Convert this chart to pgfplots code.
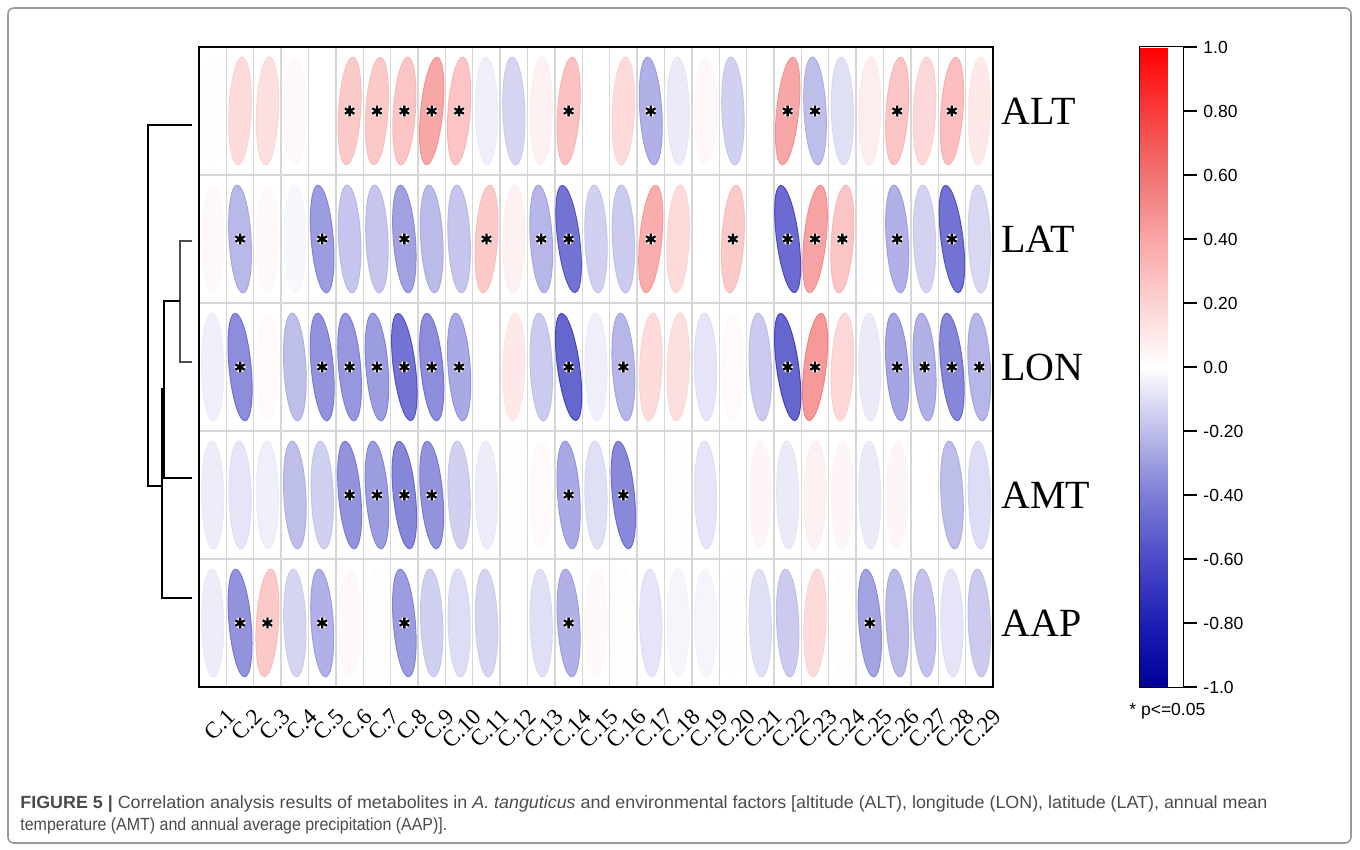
\documentclass[border=0pt]{standalone}
\usepackage{fontspec}
\setmainfont{Liberation Serif}
\newfontfamily\arial{Liberation Sans}
\usepackage{graphicx}
\usepackage{pgfplots}
\usepackage{pgfplotstable}
\pgfplotsset{compat=1.18}
\definecolor{capgray}{RGB}{75,75,75}
\definecolor{gridgray}{RGB}{215,215,215}

\pgfdeclareplotmark{correll}{%
  \pgftransformrotate{\ellang}%
  \pgfsetfillopacity{0.8}%
  \pgfpathellipse{\pgfpointorigin}{\pgfqpoint{5.5pt}{0pt}}{\pgfqpoint{0pt}{27pt}}%
  \pgfusepathqfillstroke}

\pgfplotstableread{
c  ALT   LAT   LON   AMT   AAP
1  0.01  0.04 -0.06 -0.07 -0.07
2  0.20 -0.27 -0.45 -0.10 -0.42
3  0.18  0.04  0.03 -0.06  0.30
4  0.04 -0.03 -0.25 -0.25 -0.16
5  0.00 -0.38 -0.42 -0.18 -0.30
6  0.30 -0.22 -0.40 -0.42  0.04
7  0.30 -0.22 -0.38 -0.38  0.02
8  0.32 -0.36 -0.58 -0.48 -0.38
9  0.48 -0.26 -0.45 -0.42 -0.18
10 0.33 -0.22 -0.33 -0.18 -0.13
11 -0.06 0.30  0.00 -0.07 -0.16
12 -0.16 0.08  0.12  0.01  0.00
13 0.08 -0.28 -0.20  0.03 -0.12
14 0.34 -0.58 -0.65 -0.33 -0.30
15 0.00 -0.18 -0.06 -0.12  0.04
16 0.20 -0.20 -0.28 -0.47  0.02
17 -0.30 0.45  0.20  0.00 -0.10
18 -0.08 0.20  0.18  0.01 -0.04
19 0.04  0.00 -0.10 -0.10 -0.04
20 -0.18 0.30  0.03  0.00  0.01
21 0.00  0.00 -0.20  0.05 -0.12
22 0.48 -0.62 -0.65 -0.08 -0.20
23 -0.25 0.50  0.55  0.08  0.20
24 -0.12 0.32  0.22  0.05  0.02
25 0.10  0.01 -0.08 -0.08 -0.35
26 0.32 -0.30 -0.35  0.05 -0.26
27 0.22 -0.17 -0.30  0.00 -0.23
28 0.36 -0.58 -0.48 -0.25 -0.10
29 0.12 -0.15 -0.28 -0.13 -0.20
}\corrdata

\begin{document}
\begin{tikzpicture}
\path[use as bounding box] (0pt,0pt) rectangle (680pt,-425pt);

% ---------- overlay axis in pixel units: frame, dendrogram, caption ----------
\begin{axis}[
  at={(0pt,0pt)}, anchor=north west,
  width=680pt, height=425pt, scale only axis,
  xmin=0, xmax=1360, ymin=0, ymax=850, y dir=reverse,
  hide axis, clip=false,
]
\draw[gray!80, line width=0.8pt, rounded corners=3pt] (axis cs:8,8) rectangle (axis cs:1351,843);
% dendrogram
\addplot[black, line width=0.8pt, mark=none] coordinates {(192,125) (148,125) (148,486) (162,486)};
\addplot[black!70, line width=0.8pt, mark=none] coordinates {(192,241) (180,241) (180,362) (192,362)};
\addplot[black, line width=0.8pt, mark=none] coordinates {(180,301) (164,301) (164,478) (192,478)};
\addplot[black, line width=0.8pt, mark=none] coordinates {(164,389) (162,389) (162,598) (192,598)};
% legend for significance
\node[anchor=west, inner sep=0pt, font=\arial\fontsize{8.75pt}{10pt}\selectfont] at (axis cs:1129,711) {* p<=0.05};
% caption
\node[anchor=base west, inner sep=0pt, text=capgray, font=\arial\fontsize{8.8pt}{11pt}\selectfont] at (axis cs:20,808)
  {\resizebox{623.5pt}{\height}{\textbf{FIGURE 5 |} Correlation analysis results of metabolites in \textit{A. tanguticus} and environmental factors [altitude (ALT), longitude (LON), latitude (LAT), annual mean}};
\node[anchor=base west, inner sep=0pt, text=capgray, font=\arial\fontsize{8.8pt}{11pt}\selectfont] at (axis cs:20,830)
  {\resizebox{213.5pt}{\height}{temperature (AMT) and annual average precipitation (AAP)].}};
\end{axis}

% ---------- main correlation axis ----------
\begin{axis}[
  at={(99.5pt,-23.5pt)}, anchor=north west,
  scale only axis, width=397pt, height=320pt,
  xmin=0.5, xmax=29.5, ymin=0.5, ymax=5.5, y dir=reverse,
  xtick={1,...,29},
  xticklabels={C.1,C.2,C.3,C.4,C.5,C.6,C.7,C.8,C.9,C.10,C.11,C.12,C.13,C.14,C.15,C.16,C.17,C.18,C.19,C.20,C.21,C.22,C.23,C.24,C.25,C.26,C.27,C.28,C.29},
  ytick={1,2,3,4,5},
  yticklabels={ALT,LAT,LON,AMT,AAP},
  yticklabel pos=right,
  major tick length=0pt, minor tick length=0pt,
  minor xtick={1.5,2.5,...,28.5}, minor ytick={1.5,2.5,3.5,4.5},
  xminorgrids, yminorgrids,
  minor grid style={gridgray, line width=0.7pt},
  axis line style={line width=1.4pt},
  xticklabel style={font=\fontsize{11.5pt}{13pt}\selectfont, inner sep=0pt, xshift=6.5pt, yshift=-10pt, rotate=45, anchor=north east},
  yticklabel style={font=\fontsize{20pt}{24pt}\selectfont, inner sep=0pt, xshift=4pt, anchor=west},
  colormap={corr}{rgb255=(0,0,150) rgb255=(30,30,180) rgb255=(75,75,200) rgb255=(125,125,215) rgb255=(190,190,235) rgb255=(255,255,255) rgb255=(253,210,210) rgb255=(250,165,165) rgb255=(240,115,115) rgb255=(250,60,60) rgb255=(255,0,0)},
  point meta min=-1, point meta max=1,
  colorbar right,
  colorbar style={
    at={(parent axis.north east)}, anchor=north west, xshift=64.5pt,
    scale only axis, width=22pt, height=320pt,
    ytick={-1,-0.8,-0.6,-0.4,-0.2,0,0.2,0.4,0.6,0.8,1},
    yticklabels={-1.0,-0.80,-0.60,-0.40,-0.20,0.0,0.20,0.40,0.60,0.80,1.0},
    ytick pos=right, yticklabel pos=right,
    tick align=outside, major tick length=7pt,
    tick style={black, line width=0.6pt},
    axis line style={line width=0.5pt},
    yticklabel style={font=\arial\fontsize{8.75pt}{10pt}\selectfont, inner sep=0pt, xshift=3pt, anchor=west},
  },
  every axis plot/.append style={scatter/use mapped color={draw=mapped color, fill=mapped color}},
]
\addplot[scatter, only marks, mark=correll, point meta=explicit, mark options={line width=0.5pt},
  visualization depends on={-12*\thisrow{ALT} \as \ellang}] table[x=c, y expr=1, meta=ALT] {\corrdata};
\addplot[scatter, only marks, mark=correll, point meta=explicit, mark options={line width=0.5pt},
  visualization depends on={-12*\thisrow{LAT} \as \ellang}] table[x=c, y expr=2, meta=LAT] {\corrdata};
\addplot[scatter, only marks, mark=correll, point meta=explicit, mark options={line width=0.5pt},
  visualization depends on={-12*\thisrow{LON} \as \ellang}] table[x=c, y expr=3, meta=LON] {\corrdata};
\addplot[scatter, only marks, mark=correll, point meta=explicit, mark options={line width=0.5pt},
  visualization depends on={-12*\thisrow{AMT} \as \ellang}] table[x=c, y expr=4, meta=AMT] {\corrdata};
\addplot[scatter, only marks, mark=correll, point meta=explicit, mark options={line width=0.5pt},
  visualization depends on={-12*\thisrow{AAP} \as \ellang}] table[x=c, y expr=5, meta=AAP] {\corrdata};
% significance stars (halo + star)
\addplot[only marks, mark=asterisk, mark size=2.7pt, mark options={white, line width=2.2pt}] coordinates {
 (6,1) (7,1) (8,1) (9,1) (10,1) (14,1) (17,1) (22,1) (23,1) (26,1) (28,1)
 (2,2) (5,2) (8,2) (11,2) (13,2) (14,2) (17,2) (20,2) (22,2) (23,2) (24,2) (26,2) (28,2)
 (2,3) (5,3) (6,3) (7,3) (8,3) (9,3) (10,3) (14,3) (16,3) (22,3) (23,3) (26,3) (27,3) (28,3) (29,3)
 (6,4) (7,4) (8,4) (9,4) (14,4) (16,4)
 (2,5) (3,5) (5,5) (8,5) (14,5) (25,5)};
\addplot[only marks, mark=asterisk, mark size=2.7pt, mark options={black, line width=1.2pt}] coordinates {
 (6,1) (7,1) (8,1) (9,1) (10,1) (14,1) (17,1) (22,1) (23,1) (26,1) (28,1)
 (2,2) (5,2) (8,2) (11,2) (13,2) (14,2) (17,2) (20,2) (22,2) (23,2) (24,2) (26,2) (28,2)
 (2,3) (5,3) (6,3) (7,3) (8,3) (9,3) (10,3) (14,3) (16,3) (22,3) (23,3) (26,3) (27,3) (28,3) (29,3)
 (6,4) (7,4) (8,4) (9,4) (14,4) (16,4)
 (2,5) (3,5) (5,5) (8,5) (14,5) (25,5)};
\end{axis}
\end{tikzpicture}
\end{document}
